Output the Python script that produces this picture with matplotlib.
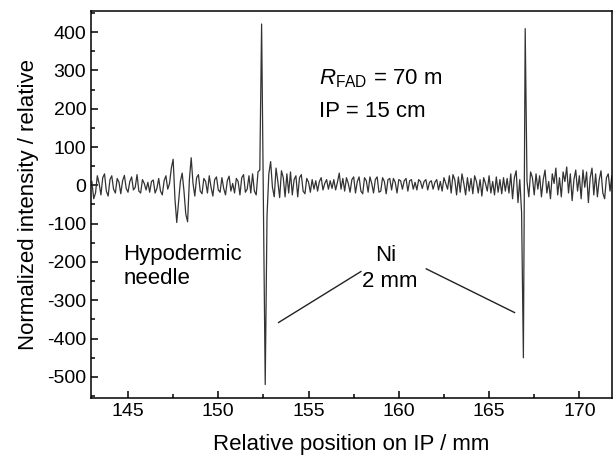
import numpy as np
import matplotlib
matplotlib.use("Agg")
import matplotlib.pyplot as plt

plt.rcParams['font.family'] = ['Liberation Sans', 'DejaVu Sans']
plt.rcParams['mathtext.fontset'] = 'custom'
plt.rcParams['mathtext.rm'] = 'Liberation Sans'
plt.rcParams['mathtext.it'] = 'Liberation Sans:italic'
plt.rcParams['axes.unicode_minus'] = False

# intensity profile, one row per mm, sampled every 0.1 mm starting at 143.0 mm
intensity = [
    10, -35, -20, 25, 5, -25, 20, 30, -15, -28,       # 143
    15, 25, -10, -20, 18, 8, -22, 12, 26, -8,         # 144
    -18, 10, 22, -12, -5, 28, -15, -20, 15, 5,        # 145
    -12, 8, -18, 10, 14, -20, -8, 18, -15, -25,       # 146
    12, 25, -10, 5, 45, 68, -35, -97, -45, 10,        # 147
    32, -15, -75, -95, 15, 72, 5, -28, 20, 28,        # 148
    -15, -22, 18, 10, -20, 25, -5, -28, 15, 22,       # 149
    -12, -18, 20, -8, -25, 12, 24, -15, 5, -20,       # 150
    18, 10, -25, 20, 28, -18, -10, 25, -20, 30,       # 151
    -15, -25, 35, 40, 421, -40, -520, -80, 30, 62,    # 152
    -5, -30, 45, 10, -32, 38, 20, -30, 30, -20,       # 153
    35, -25, 15, 25, -30, 20, 28, -15, -22, 18,       # 154
    8, -18, 15, -10, 12, -15, 10, 20, -12, 5,         # 155
    15, -10, 12, -8, 15, -12, 8, 32, -10, 18,         # 156
    -15, 20, 5, -18, 15, 22, -20, 10, 22, -15,        # 157
    -22, 20, 12, -18, 22, 5, -20, 15, 22, -18,        # 158
    -15, 20, 10, -22, 15, 18, -12, 18, 8, -20,        # 159
    15, 12, -10, 12, 18, -15, 12, 15, -10, 8,         # 160
    -12, 15, 10, -8, 10, 15, -12, 8, 12, -10,         # 161
    8, 15, -12, 10, -15, 20, 5, -10, 25, -20,         # 162
    28, 15, -25, 22, -18, 30, 5, -25, 20, -15,        # 163
    18, -22, 25, 10, -20, 15, -28, 20, 5, -15,        # 164
    25, -20, 10, -25, 22, -18, 15, -22, 20, -15,      # 165
    18, -20, 30, -35, 20, 38, -45, 15, -70, -450,     # 166
    409, 10, -30, 35, 20, -25, 30, -10, 25, -30,      # 167
    15, 40, -20, 10, -35, 30, 5, 45, -25, 20,         # 168
    -30, 35, 10, 48, -20, 30, -40, 15, 40, -15,       # 169
    25, -35, 40, -5, 35, -45, 20, 45, -25, 30,        # 170
    -30, 15, 38, -20, -35, 20, 30, -15, 25, -10,      # 171
    20,                                               # 172
]
position = 143.0 + 0.1 * np.arange(len(intensity))

# pointer lines for the Ni labels
ni_left_x = [153.34, 157.90]
ni_left_y = [-358, -225]
ni_right_x = [161.52, 166.41]
ni_right_y = [-218, -332]

fig = plt.figure(figsize=(6.14, 4.61), dpi=100)
ax = fig.add_axes([0.1485, 0.1367, 0.848, 0.8394])

ax.plot(position, intensity, color='#333333', lw=0.9)
ax.plot(ni_left_x, ni_left_y, color='#222222', lw=1.0)
ax.plot(ni_right_x, ni_right_y, color='#222222', lw=1.0)

ax.set_xlim(142.96, 171.8)
ax.set_ylim(-555, 455)
ax.set_xticks([145, 150, 155, 160, 165, 170])
ax.set_xticks(np.arange(147.5, 171, 5), minor=True)
ax.set_yticks(np.arange(-500, 401, 100))
ax.set_yticks(np.arange(-550, 451, 100), minor=True)
ax.tick_params(which='both', direction='in', top=False, right=False, labelsize=14, width=1.1)
ax.tick_params(which='major', length=5)
ax.tick_params(which='minor', length=3)
for s in ax.spines.values():
    s.set_linewidth(1.1)

ax.set_xlabel('Relative position on IP / mm', fontsize=16, labelpad=10)
ax.set_ylabel('Normalized intensity / relative', fontsize=16, labelpad=6)

ax.text(155.6, 279, r'$R_{\mathrm{FAD}}$ = 70 m', fontsize=16, va='center', ha='left')
ax.text(155.6, 193, 'IP = 15 cm', fontsize=16, va='center', ha='left')
ax.text(144.75, -152, 'Hypodermic\nneedle', fontsize=16, va='top', ha='left', linespacing=1.2)
ax.text(159.25, -182, 'Ni', fontsize=16, va='center', ha='center')
ax.text(159.5, -252, '2 mm', fontsize=16, va='center', ha='center')

fig.savefig('out.png', dpi=100)
